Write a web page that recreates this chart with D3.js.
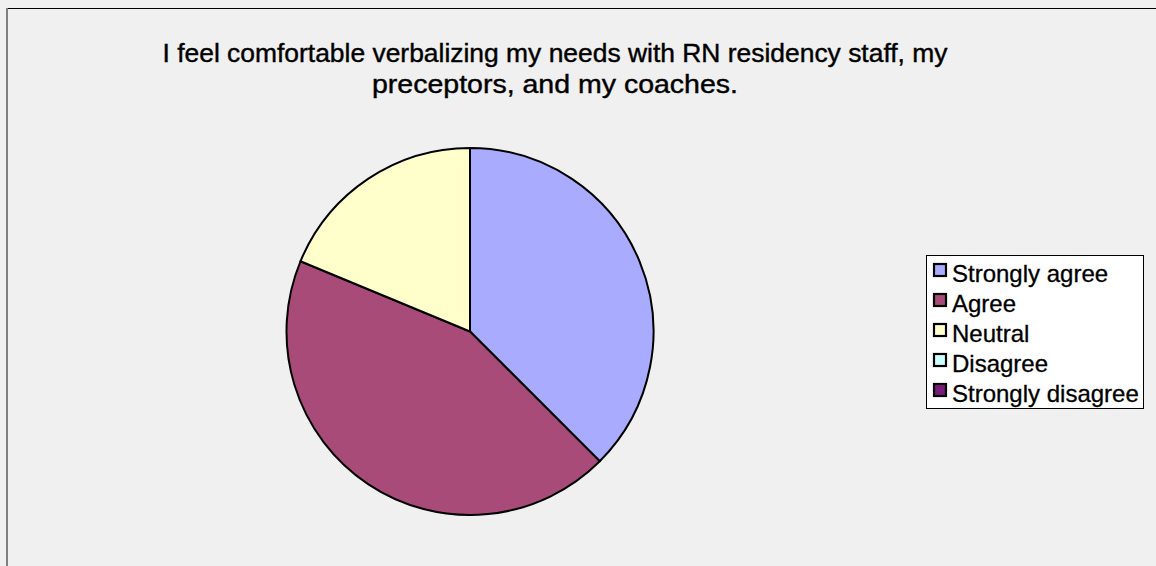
<!DOCTYPE html>
<html>
<head>
<meta charset="utf-8">
<script src="https://d3js.org/d3.v7.min.js"></script>
<style>
  body { margin: 0; background: #f0f0f0; }
  svg { display: block; font-family: "Liberation Sans", Arial, sans-serif; }
</style>
</head>
<body>
<div id="chart-area"></div>
<script>
var categories = ["Strongly agree", "Agree", "Neutral", "Disagree", "Strongly disagree"];
var counts = [6, 7, 3, 0, 0];
var colors = ["#a9abff", "#a84b78", "#ffffcc", "#ccffff", "#7a1a7a"];
var titleLines = ["I feel comfortable verbalizing my needs with RN residency staff, my",
                  "preceptors, and my coaches."];
var titleWidths = [785, 366];

var width = 1156, height = 566;

var svg = d3.select("#chart-area")
    .append("svg")
    .attr("width", width)
    .attr("height", height);

// background + frame
svg.append("rect")
    .attr("width", width).attr("height", height)
    .attr("fill", "#f0f0f0");

svg.append("line")
    .attr("x1", 7).attr("x2", width).attr("y1", 8.5).attr("y2", 8.5)
    .attr("stroke", "#000").attr("stroke-width", 1);
svg.append("line")
    .attr("x1", 7).attr("x2", 7).attr("y1", 8).attr("y2", height)
    .attr("stroke", "#808080").attr("stroke-width", 2);

// TITLE
svg.selectAll("text.title")
    .data(titleLines)
    .enter()
    .append("text")
    .attr("class", "title")
    .attr("x", 555)
    .attr("y", function (d, i) { return 62 + i * 31; })
    .attr("text-anchor", "middle")
    .attr("font-size", "25px")
    .attr("textLength", function (d, i) { return titleWidths[i]; })
    .attr("lengthAdjust", "spacingAndGlyphs")
    .attr("fill", "#000")
    .attr("stroke", "#000")
    .attr("stroke-width", 0.4)
    .text(function (d) { return d; });

// PIE
var cx = 470, cy = 331.5, r = 183.5;

var pie = d3.pie().sort(null).value(function (d) { return d; });
var arc = d3.arc().innerRadius(0).outerRadius(r);

var g = svg.append("g")
    .attr("transform", "translate(" + cx + "," + cy + ")");

g.selectAll("path")
    .data(pie(counts).filter(function (d) { return d.value > 0; }))
    .enter()
    .append("path")
    .attr("d", arc)
    .attr("fill", function (d) { return colors[d.index]; })
    .attr("stroke", "#000")
    .attr("stroke-width", 2)
    .attr("stroke-linejoin", "round");

// LEGEND
var legend = svg.append("g");

legend.append("rect")
    .attr("x", 926.5).attr("y", 255.5)
    .attr("width", 217).attr("height", 153)
    .attr("fill", "#fff")
    .attr("stroke", "#000").attr("stroke-width", 1);

var items = legend.selectAll("g.item")
    .data(categories)
    .enter()
    .append("g")
    .attr("class", "item")
    .attr("transform", function (d, i) { return "translate(0," + (282 + i * 30) + ")"; });

items.append("rect")
    .attr("x", 934).attr("y", -18)
    .attr("width", 12).attr("height", 12)
    .attr("fill", function (d, i) { return colors[i]; })
    .attr("stroke", "#000").attr("stroke-width", 2.2);

items.append("text")
    .attr("x", 952)
    .attr("y", 0)
    .attr("font-size", "24px")
    .attr("fill", "#000")
    .attr("stroke", "#000")
    .attr("stroke-width", 0.3)
    .text(function (d) { return d; });
</script>
</body>
</html>
